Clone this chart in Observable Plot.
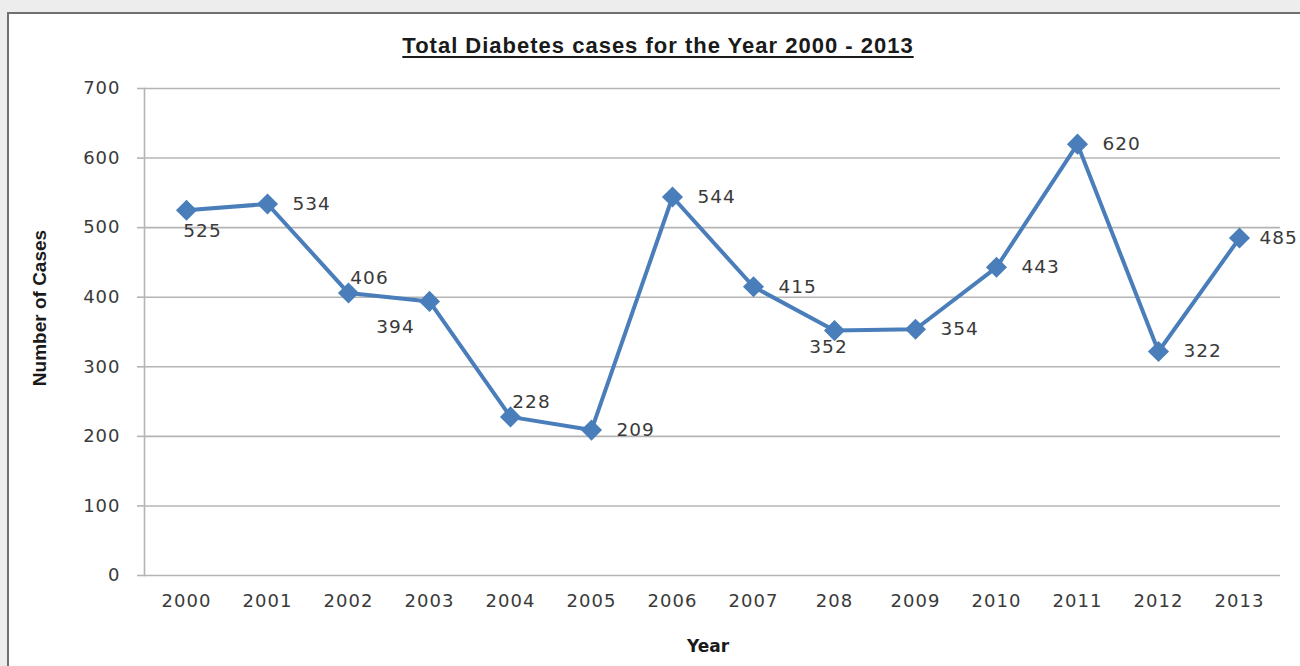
<!DOCTYPE html>
<html>
<head>
<meta charset="utf-8">
<script src="https://cdn.jsdelivr.net/npm/d3@7"></script>
<script src="https://cdn.jsdelivr.net/npm/@observablehq/plot@0.6"></script>
<style>
  html, body { margin: 0; padding: 0; }
  body {
    width: 1300px; height: 666px; overflow: hidden; position: relative;
    background: #ededed;
  }
  #frame {
    position: absolute; left: 7px; top: 12px; width: 1310px; height: 700px;
    background: #ffffff; border: 2px solid #707070; box-sizing: border-box;
  }
  #title {
    position: absolute; left: 0; width: 1316px; top: 33px; text-align: center;
    font-family: "Liberation Sans", Arial, sans-serif; font-weight: bold;
    font-size: 22px; letter-spacing: 1px; color: #1a1a1a; text-decoration: underline;
    text-underline-offset: 3px; text-decoration-thickness: 1.5px;
  }
  #ytitle {
    position: absolute; left: 40px; top: 308px; white-space: nowrap;
    font-family: "Liberation Sans Narrow", "Liberation Sans", Arial, sans-serif;
    font-weight: bold; font-size: 19px; color: #1a1a1a;
    transform: translate(-50%, -50%) rotate(-90deg);
  }
  #xtitle {
    position: absolute; left: 708px; top: 646px; white-space: nowrap;
    font-family: "DejaVu Sans", sans-serif; font-weight: bold;
    font-size: 17px; color: #1a1a1a;
    transform: translate(-50%, -50%);
  }
  #chart { position: absolute; left: 0; top: 0; }
</style>
</head>
<body>
<div id="frame"></div>
<div id="title">Total Diabetes cases for the Year 2000 - 2013</div>
<div id="ytitle">Number of Cases</div>
<div id="xtitle">Year</div>
<div id="chart"></div>
<script>
// Year labels as printed on the category axis
const years = ["2000", "2001", "2002", "2003", "2004", "2005", "2006",
               "2007", "208", "2009", "2010", "2011", "2012", "2013"];
// Total diabetes cases per year
const cases = [525, 534, 406, 394, 228, 209, 544, 415, 352, 354, 443, 620, 322, 485];
// Where each value label sits relative to its point
const labelPlacement = ["belowRight", "right", "above", "belowLeft", "above", "right", "right",
                        "right", "below", "right", "right", "right", "right", "rightTight"];
const yTicks = [0, 100, 200, 300, 400, 500, 600, 700];

const data = years.map((year, i) => ({year, cases: cases[i], place: labelPlacement[i]}));

const lineColor = "#4A7EBB";
const gridColor = "#b4b4b4";
const textColor = "#3a3a3a";
const labelFont = {fontFamily: "DejaVu Sans, sans-serif", fontSize: 18.5, fill: textColor};

const placements = {
  right:      {textAnchor: "start",  dx: 25,  dy: 0},
  rightTight: {textAnchor: "start",  dx: 20,  dy: 0},
  above:      {textAnchor: "middle", dx: 21,  dy: -15},
  below:      {textAnchor: "middle", dx: -6,  dy: 16},
  belowRight: {textAnchor: "middle", dx: 16,  dy: 21},
  belowLeft:  {textAnchor: "middle", dx: -34, dy: 26}
};

const labelMarks = Object.entries(placements).map(([key, opt]) =>
  Plot.text(data.filter(d => d.place === key), {
    x: "year", y: "cases", text: d => String(d.cases),
    lineAnchor: "middle", ...opt, ...labelFont
  })
);

const chart = Plot.plot({
  width: 1300,
  height: 666,
  marginLeft: 144,
  marginRight: 20,
  marginTop: 88,
  marginBottom: 91,
  style: {background: "transparent", overflow: "visible", letterSpacing: "1px"},
  x: {type: "point", domain: years, padding: 0.5, label: null},
  y: {domain: [0, 700], label: null},
  marks: [
    Plot.ruleY(yTicks, {stroke: gridColor, strokeWidth: 1.6}),
    Plot.frame({anchor: "left", stroke: gridColor, strokeWidth: 1.6}),
    Plot.axisY({ticks: yTicks, tickSize: 7, tickPadding: 17, stroke: gridColor, strokeWidth: 1.6,
                fontFamily: "DejaVu Sans, sans-serif", fontSize: 18, fill: textColor, label: null}),
    Plot.axisX({tickSize: 0, tickPadding: 19,
                fontFamily: "DejaVu Sans, sans-serif", fontSize: 18, fill: textColor, label: null}),
    Plot.line(data, {x: "year", y: "cases", stroke: lineColor, strokeWidth: 4, strokeLinejoin: "miter"}),
    Plot.dot(data, {x: "year", y: "cases", symbol: "diamond2", r: 9.5, fill: lineColor, stroke: "none"}),
    ...labelMarks
  ]
});

document.getElementById("chart").appendChild(chart);
</script>
</body>
</html>
